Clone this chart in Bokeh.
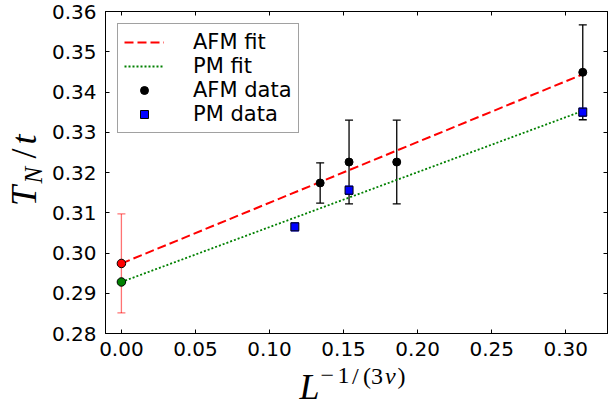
import math
from bokeh.plotting import figure
from bokeh.layouts import row, column
from bokeh.models import (ColumnDataSource, Whisker, TeeHead, Legend, LegendItem,
                          LinearAxis, FixedTicker, PrintfTickFormatter, Label, Range1d)
from bokeh.embed import file_html
from bokeh.resources import INLINE

# ---------------- data ----------------
afm_x = [0.1342, 0.1537, 0.1859, 0.3115]
afm_y = [0.3174, 0.3226, 0.3226, 0.3449]
afm_err = [0.0050, 0.0104, 0.0104, 0.0118]

pm_x = [0.1171, 0.1537, 0.3115]
pm_y = [0.3065, 0.3156, 0.3350]
pm_err = [0.0010, 0.0010, 0.0010]

fit_x = [0.0, 0.3115]
afm_fit_y = [0.2974, 0.3444]
pm_fit_y = [0.2928, 0.3353]

afm_ext_x = [0.0]
afm_ext_y = [0.2974]
afm_ext_err = [0.0123]
pm_ext_x = [0.0]
pm_ext_y = [0.2928]

x_ticks = [0.00, 0.05, 0.10, 0.15, 0.20, 0.25, 0.30]
y_ticks = [0.28, 0.29, 0.30, 0.31, 0.32, 0.33, 0.34, 0.35, 0.36]
legend_labels = ["AFM fit", "PM fit", "AFM data", "PM data"]

# ---------------- main figure ----------------
p = figure(width=560, height=366, title=None,
           x_range=Range1d(-0.01074, 0.3282), y_range=Range1d(0.28, 0.36),
           output_backend="svg", toolbar_location=None,
           min_border_left=54, min_border_right=1, min_border_top=11, min_border_bottom=33)
p.xgrid.visible = False
p.ygrid.visible = False
p.outline_line_color = "black"
p.outline_line_width = 1
p.background_fill_color = "white"
p.border_fill_color = "white"


def style_axis(ax, show_labels):
    ax.major_tick_in = 4
    ax.major_tick_out = 0
    ax.minor_tick_in = 0
    ax.minor_tick_out = 0
    ax.axis_line_color = "black"
    ax.major_tick_line_color = "black"
    ax.major_label_text_font = "DejaVu Sans"
    if show_labels:
        ax.major_label_text_font_size = "20px"
        ax.major_label_text_color = "black"
    else:
        ax.major_label_text_font_size = "1px"
        ax.major_label_text_color = None
        ax.major_label_standoff = 0


p.xaxis.ticker = FixedTicker(ticks=x_ticks)
p.xaxis.formatter = PrintfTickFormatter(format="%.2f")
p.yaxis.ticker = FixedTicker(ticks=y_ticks)
p.yaxis.formatter = PrintfTickFormatter(format="%.2f")
style_axis(p.xaxis[0], True)
style_axis(p.yaxis[0], True)
p.xaxis.major_label_standoff = 8
p.yaxis.major_label_standoff = 9

top_ax = LinearAxis(ticker=FixedTicker(ticks=x_ticks))
right_ax = LinearAxis(ticker=FixedTicker(ticks=y_ticks))
style_axis(top_ax, False)
style_axis(right_ax, False)
p.add_layout(top_ax, "above")
p.add_layout(right_ax, "right")

# ---------------- fits ----------------
r_afm_fit = p.line(fit_x, afm_fit_y, line_color="red", line_width=2, line_dash="9 4")
r_pm_fit = p.line(fit_x, pm_fit_y, line_color="green", line_width=1.8, line_dash="2 2")

# ---------------- error bars ----------------
afm_src = ColumnDataSource(dict(x=afm_x, y=afm_y,
                                lo=[v - e for v, e in zip(afm_y, afm_err)],
                                hi=[v + e for v, e in zip(afm_y, afm_err)]))
pm_src = ColumnDataSource(dict(x=pm_x, y=pm_y,
                               lo=[v - e for v, e in zip(pm_y, pm_err)],
                               hi=[v + e for v, e in zip(pm_y, pm_err)]))
ext_src = ColumnDataSource(dict(x=afm_ext_x, y=afm_ext_y,
                                lo=[v - e for v, e in zip(afm_ext_y, afm_ext_err)],
                                hi=[v + e for v, e in zip(afm_ext_y, afm_ext_err)]))


def whisker(src, color, alpha=1.0):
    head = dict(size=8, line_color=color, line_width=1.3, line_alpha=alpha)
    return Whisker(source=src, base="x", lower="lo", upper="hi", dimension="height",
                   line_color=color, line_width=1.3, line_alpha=alpha,
                   upper_head=TeeHead(**head), lower_head=TeeHead(**head))


p.add_layout(whisker(ext_src, "red", 0.55))
p.add_layout(whisker(afm_src, "black"))
p.add_layout(whisker(pm_src, "blue"))

# ---------------- points ----------------
r_afm = p.scatter("x", "y", source=afm_src, marker="circle", size=8,
                  fill_color="black", line_color="black")
r_pm = p.scatter("x", "y", source=pm_src, marker="square", size=8,
                 fill_color="blue", line_color="black", line_width=1)
p.scatter(afm_ext_x, afm_ext_y, marker="circle", size=8.5, fill_color="red", line_color="black")
p.scatter(pm_ext_x, pm_ext_y, marker="circle", size=8.5, fill_color="green", line_color="black")

# ---------------- legend ----------------
legend = Legend(items=[
    LegendItem(label=legend_labels[0], renderers=[r_afm_fit]),
    LegendItem(label=legend_labels[1], renderers=[r_pm_fit]),
    LegendItem(label=legend_labels[2], renderers=[r_afm]),
    LegendItem(label=legend_labels[3], renderers=[r_pm]),
], location="top_left")
legend.label_text_font = "DejaVu Sans"
legend.label_text_font_size = "21px"
legend.label_text_color = "black"
legend.glyph_width = 40
legend.glyph_height = 20
legend.label_height = 20
legend.label_standoff = 29
legend.padding = 6
legend.spacing = 0
legend.margin = 12
legend.border_line_color = "#444444"
legend.border_line_width = 1.3
legend.background_fill_color = "white"
legend.background_fill_alpha = 1.0
p.add_layout(legend)

# ---------------- title strips (math-like axis titles) ----------------
serif = "Liberation Serif"


def strip(w, h, y_top, y_bottom):
    f = figure(width=w, height=h, title=None, x_range=Range1d(0, w),
               y_range=Range1d(y_bottom, y_top),
               output_backend="svg", toolbar_location=None,
               x_axis_location=None, y_axis_location=None, min_border=0)
    f.grid.visible = False
    f.outline_line_color = None
    f.background_fill_color = "white"
    f.border_fill_color = "white"
    return f


def lab(text, x, y, size, italic=True, angle=0.0):
    return Label(x=x, y=y, text=text,
                 text_font=serif, text_font_style="italic" if italic else "normal",
                 text_font_size=size, text_color="black", angle=angle,
                 text_align="left", text_baseline="alphabetic")


# y title  T_N / t  (reads bottom to top); this strip's frame lines up with the plot frame
yfig = strip(48, 366, 11, 333)
rot = math.pi / 2
yfig.add_layout(lab("T", 23, 205.5, "36px", angle=rot))
yfig.add_layout(lab("N", 32.5, 183, "25px", angle=rot))
yfig.add_layout(lab("/", 23, 158, "36px", italic=False, angle=rot))
yfig.add_layout(lab("t", 23, 144, "36px", angle=rot))

# x title  L^{-1/(3 nu)}
xfig = strip(608, 39, 0, 39)
xb = 20.7   # baseline of L within the strip
sb = 9.0    # baseline of the exponent
xfig.add_layout(lab("L", 299, xb, "36px"))
xfig.add_layout(lab("\u2212", 320, sb, "24px", italic=False))
xfig.add_layout(lab("1", 337, sb, "24px", italic=False))
xfig.add_layout(lab("/", 351.5, sb, "24px", italic=False))
xfig.add_layout(lab("(3", 362.5, sb, "24px", italic=False))
xfig.add_layout(lab("\u03bd", 384.5, sb, "24px"))
xfig.add_layout(lab(")", 397, sb, "24px", italic=False))

layout = column(row(yfig, p), xfig)
open("out.html", "w").write(file_html(layout, INLINE))
